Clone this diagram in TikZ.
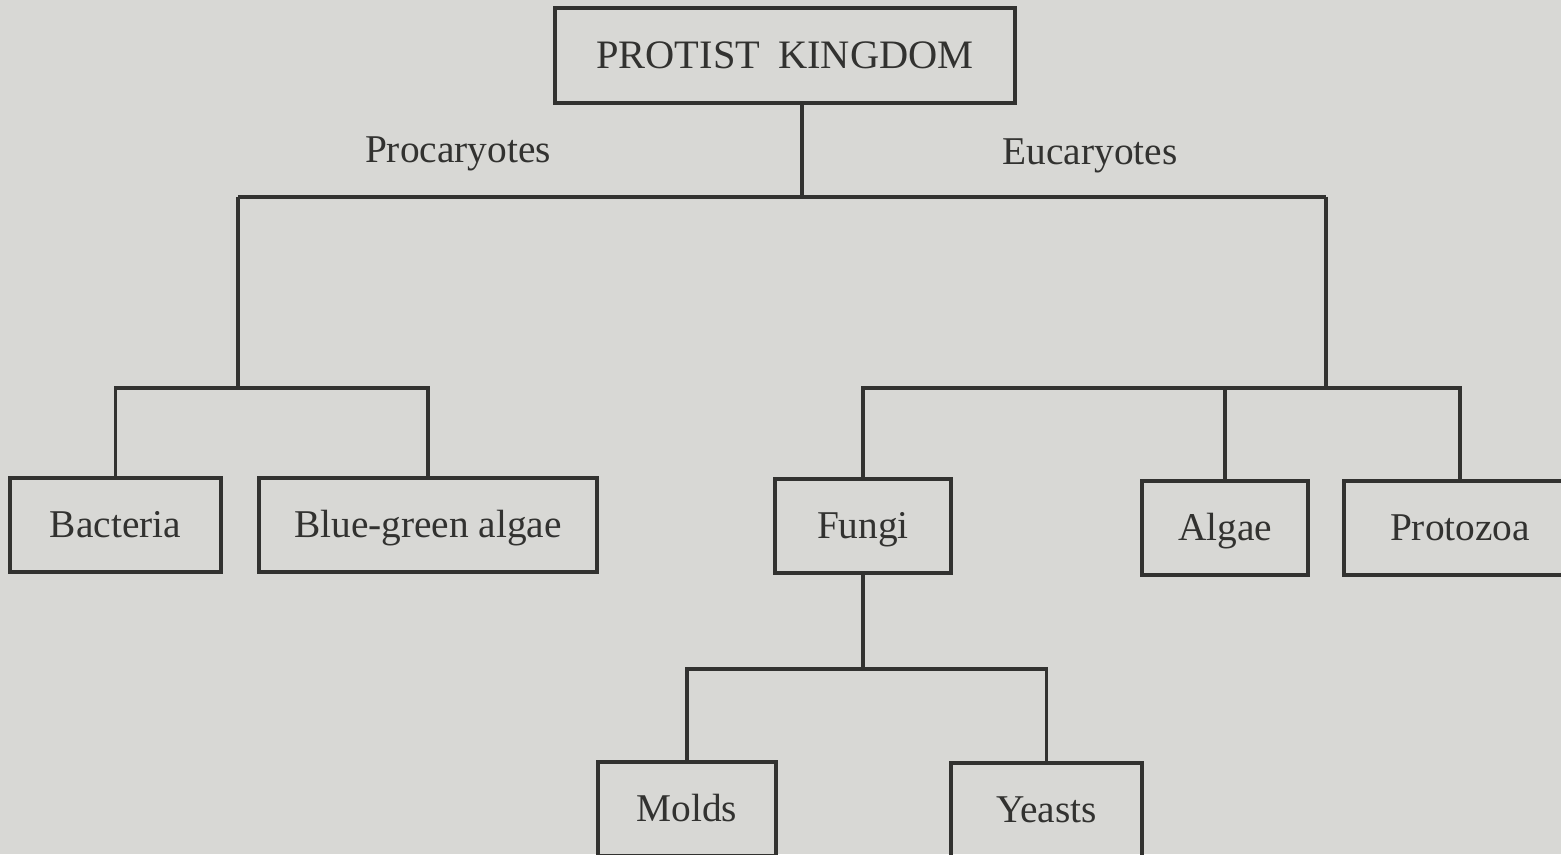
\documentclass[tikz,border=0pt]{standalone}
\usepackage{fontspec}
\setmainfont{Liberation Serif}
\definecolor{paper}{RGB}{216,216,213}
\definecolor{ink}{RGB}{50,50,48}
\begin{document}
\begin{tikzpicture}[
        font=\fontsize{22.4}{26}\selectfont,
        taxon/.style={draw=ink,text=ink,line width=1.8pt,minimum height=1.88cm,inner sep=0pt,
            text height=14.6pt,text depth=0pt},
        link/.style={draw=ink,line width=1.8pt}]
    \fill[paper] (0,0) rectangle (31.22,17.08);
    \clip (0,0) rectangle (31.22,17.08);
    \node[taxon,minimum width=9.2cm,minimum height=1.9cm,font=\fontsize{23}{27}\selectfont] (kingdom) at (15.7,15.97) {PROTIST\hspace{0.45em}KINGDOM};
    \node[text=ink] (procLabel) at (9.16,14.0) {Procaryotes};
    \node[text=ink] (eucLabel) at (21.8,13.96) {Eucaryotes};
    \node[taxon,minimum width=4.22cm] (bact) at (2.31,6.58) {Bacteria};
    \node[taxon,minimum width=6.76cm] (bga) at (8.56,6.58) {Blue-green algae};
    \node[taxon,minimum width=3.52cm] (fungi) at (17.26,6.56) {Fungi};
    \node[taxon,minimum width=3.32cm] (algae) at (24.5,6.52) {Algae};
    \node[taxon,minimum width=4.64cm] (protozoa) at (29.2,6.52) {Protozoa};
    \node[taxon,minimum width=3.56cm] (molds) at (13.74,0.9) {Molds};
    \node[taxon,minimum width=3.82cm] (yeasts) at (20.93,0.88) {Yeasts};
    \coordinate (top) at (16.04,13.14);
    \coordinate (pro) at (4.76,13.14);
    \coordinate (euk) at (26.52,13.14);
    \coordinate (proRail) at (4.76,9.32);
    \coordinate (eukRail) at (26.52,9.32);
    \coordinate (fungRail) at (17.26,3.7);
    \draw[link] (kingdom.south -| top) -- (top);
    \draw[link] (pro) -- (euk);
    \draw[link] (pro) -- (proRail);
    \draw[link] (bact.north) |- (bga.north |- proRail) -- (bga.north);
    \draw[link] (euk) -- (eukRail);
    \draw[link] (fungi.north) |- (protozoa.north |- eukRail) -- (protozoa.north);
    \draw[link] (algae.north |- eukRail) -- (algae.north);
    \draw[link] (fungi.south) -- (fungRail);
    \draw[link] (molds.north) |- (yeasts.north |- fungRail) -- (yeasts.north);
\end{tikzpicture}
\end{document}
